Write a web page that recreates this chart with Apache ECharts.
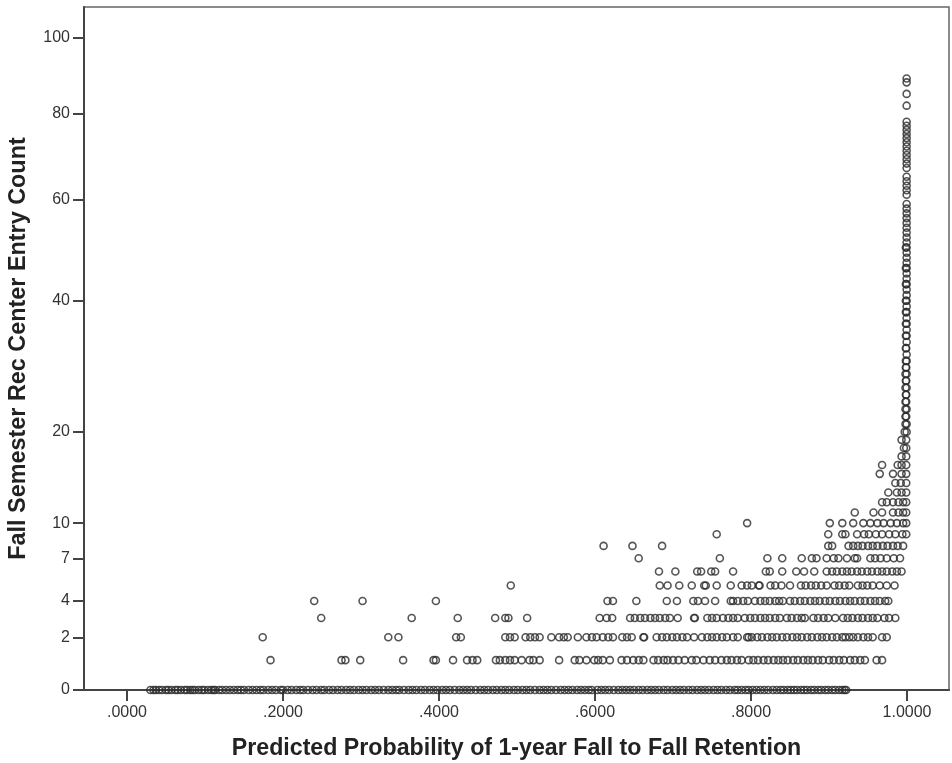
<!DOCTYPE html>
<html>
<head>
<meta charset="utf-8">
<title>Predicted retention vs rec center entries</title>
<script src="https://cdn.jsdelivr.net/npm/echarts@6/dist/echarts.min.js"></script>
<style>
html, body { margin: 0; padding: 0; background: #fff; }
#chart { width: 952px; height: 763px; }
</style>
</head>
<body>
<div id="chart"></div>
<script>
const xTicks = [0, 0.2, 0.4, 0.6, 0.8, 1];
const yTicks = [0, 2, 4, 7, 10, 20, 40, 60, 80, 100];

// predicted probability of every student, one list per entry count
const count0 = [.030,.034,.037,.041,.045,.050,.053,.057,.062,.065,.069,.074,.077,.081,.084,.087,.092,.096,.099,.104,.108,.111,.113,.118,.122,.127,.132,.137,.142,.146,.150,.156,.161,.166,.171,.175,.181,.186,.191,.197,.200,.206,.211,.217,.222,.226,.232,.238,.243,.249,.253,.259,.264,.270,.275,.281,.286,.291,.297,.302,.307,.313,.318,.323,.329,.335,.340,.345,.349,.355,.361,.366,.371,.377,.382,.388,.393,.398,.404,.409,.414,.420,.426,.431,.436,.441,.447,.453,.458,.463,.469,.474,.480,.485,.490,.496,.501,.507,.512,.517,.523,.529,.534,.539,.544,.550,.556,.561,.566,.571,.577,.582,.587,.592,.596,.603,.608,.613,.618,.624,.630,.635,.640,.645,.650,.656,.661,.667,.672,.677,.682,.688,.693,.699,.704,.709,.714,.720,.725,.731,.736,.741,.746,.752,.757,.762,.768,.773,.779,.783,.788,.793,.797,.802,.807,.812,.817,.822,.828,.833,.838,.842,.847,.851,.855,.859,.864,.868,.872,.877,.881,.886,.890,.895,.899,.904,.908,.913,.917,.920,.922];
const count1 = [.184,.275,.280,.299,.354,.393,.396,.418,.436,.443,.449,.473,.478,.485,.491,.497,.506,.516,.521,.529,.554,.574,.580,.589,.599,.604,.610,.619,.634,.641,.649,.656,.662,.675,.681,.688,.693,.700,.707,.715,.724,.730,.739,.747,.754,.762,.769,.775,.782,.788,.797,.803,.809,.816,.822,.829,.835,.841,.847,.854,.860,.867,.873,.879,.886,.892,.900,.906,.913,.919,.927,.933,.940,.946,.961,.968];
const count2 = [.174,.335,.348,.422,.428,.485,.491,.497,.511,.517,.523,.529,.544,.554,.560,.565,.578,.589,.596,.602,.610,.617,.623,.635,.641,.647,.662,.663,.679,.686,.692,.699,.705,.712,.718,.727,.737,.744,.750,.756,.763,.769,.777,.783,.795,.797,.801,.808,.814,.821,.827,.833,.840,.846,.853,.859,.865,.872,.878,.885,.891,.897,.904,.910,.917,.921,.926,.931,.937,.944,.950,.956,.968,.974];
const count3 = [.249,.365,.424,.472,.485,.489,.513,.606,.615,.622,.645,.651,.658,.664,.671,.677,.683,.690,.696,.706,.727,.728,.744,.750,.756,.764,.771,.777,.783,.792,.799,.805,.812,.818,.824,.831,.837,.846,.852,.859,.865,.869,.880,.886,.893,.899,.908,.918,.924,.930,.937,.943,.950,.956,.962,.971,.977,.985];
const count4 = [.240,.302,.396,.616,.623,.653,.692,.705,.726,.732,.741,.754,.774,.777,.783,.790,.796,.805,.812,.818,.824,.831,.836,.841,.850,.856,.863,.869,.876,.882,.888,.895,.901,.908,.914,.921,.927,.933,.940,.946,.953,.959,.965,.972,.976];
const count5 = [.492,.683,.693,.708,.724,.740,.742,.756,.774,.788,.795,.801,.810,.811,.825,.831,.839,.850,.864,.870,.877,.883,.890,.897,.907,.913,.920,.926,.937,.943,.949,.956,.965,.974,.984];
const count6 = [.682,.703,.731,.736,.749,.754,.777,.819,.824,.840,.858,.868,.881,.897,.904,.910,.917,.923,.929,.936,.942,.949,.955,.962,.968,.974,.981,.987,.993];
const count7 = [.656,.760,.821,.840,.865,.878,.884,.897,.906,.912,.923,.933,.936,.953,.959,.966,.974,.983,.991];
const count8 = [.611,.648,.686,.899,.904,.925,.931,.937,.943,.950,.956,.962,.969,.975,.982,.988,.995];
const count9 = [.756,.899,.917,.921,.936,.945,.951,.960,.968,.977,.985,.994,.999];
const count10 = [.795,.901,.917,.931,.944,.953,.962,.970,.979,.987,.995,.999];
const count11 = [.933,.957,.968,.982,.989,.995,.999];
const count12 = [.968,.974,.982,.989,.995,.999];
const count13 = [.976,.987,.993,.999];
const count14 = [.985,.992,.999];
const count15 = [.965,.982,.993,.999];
const count16 = [.968,.988,.993,.999];
const count17 = [.993,.999];
const count18 = [.996,.999];
const count19 = [.993,.999];
const count20 = [.997,.9995];
const countRows = [count0, count1, count2, count3, count4, count5, count6, count7, count8, count9, count10,
    count11, count12, count13, count14, count15, count16, count17, count18, count19, count20];

// the tall column right next to 1.0
const columnCounts = [21,22,23,24,25,26,27,28,29,30,31,32,33,34,35,36,37,38,39,40,41,42,43,44,45,46,47,48,49,50,51,52,53,54,55,56,57,58,59,61,62,63,64,65,67,68,69,70,71,72,73,74,75,76,77,78,82,85,88,89,
    21,22,23,24,25,26,27,28,29,30,32,34,36,38,40,43,46,50];
const columnProbs = [.998,.999,.998,.999,.999,.9995,.999,.9995,.999,.9995,.9995,.999,.9995,.9995,.9995,.9995,.9995,.9995,.9995,.9995,.9995,.9995,.9995,.9995,.9995,.9995,.9995,.9995,.9995,.9995,.9995,.9995,.9995,.9995,.9995,.9995,.9995,.9995,.9995,.9995,.9995,.9995,.9995,.9995,.9995,.9995,.9995,.9995,.9995,.9995,.9995,.9995,.9995,.9995,.9995,.9995,.9995,.9995,.9995,.9995,
    .9995,.998,.9995,.998,.9985,.998,.9985,.998,.9985,.9985,.9985,.9985,.9985,.9985,.9985,.9985,.9985,.9985];

// the count axis is a sqrt(count + 1) scale
const toAxis = c => Math.sqrt(c + 1) - 1;
const fromAxis = v => Math.round((v + 1) * (v + 1) - 1);

const points = [];
countRows.forEach((probs, c) => {
    probs.forEach(p => points.push([p, toAxis(c)]));
});
columnCounts.forEach((c, i) => points.push([columnProbs[i], toAxis(c)]));

const font = 'Liberation Sans';
const myChart = echarts.init(document.getElementById('chart'), null, { renderer: 'canvas' });
myChart.setOption({
    animation: false,
    backgroundColor: '#fff',
    grid: { left: 84, right: 3, top: 7, bottom: 73, show: true, borderColor: '#666', borderWidth: 1.5, outerBoundsMode: 'none' },
    xAxis: {
        type: 'value',
        min: -0.0551,
        max: 1.0538,
        name: 'Predicted Probability of 1-year Fall to Fall Retention',
        nameLocation: 'middle',
        nameGap: 59,
        nameTextStyle: { fontFamily: font, fontWeight: 'bold', fontSize: 23.2, color: '#222', verticalAlign: 'middle' },
        splitLine: { show: false },
        axisLine: { onZero: false, lineStyle: { color: '#444', width: 2 } },
        axisTick: { length: 11, customValues: xTicks, lineStyle: { color: '#444', width: 2 } },
        axisLabel: {
            customValues: xTicks,
            margin: 15,
            fontFamily: font,
            fontSize: 16,
            color: '#333',
            formatter: v => v.toFixed(4).replace(/^0/, '')
        }
    },
    yAxis: {
        type: 'value',
        min: 0,
        max: 9.48,
        name: 'Fall Semester Rec Center Entry Count',
        nameLocation: 'middle',
        nameGap: 65,
        nameTextStyle: { fontFamily: font, fontWeight: 'bold', fontSize: 23.4, color: '#222', verticalAlign: 'middle' },
        splitLine: { show: false },
        axisLine: { onZero: false, lineStyle: { color: '#444', width: 2 } },
        axisTick: { length: 11, customValues: yTicks.map(toAxis), lineStyle: { color: '#444', width: 2 } },
        axisLabel: {
            customValues: yTicks.map(toAxis),
            margin: 14,
            fontFamily: font,
            fontSize: 16,
            color: '#333',
            formatter: v => String(fromAxis(v))
        }
    },
    series: [{
        type: 'scatter',
        data: points,
        symbol: 'circle',
        symbolSize: 7,
        clip: false,
        itemStyle: { color: 'rgba(0,0,0,0)', borderColor: '#2a2a2a', borderWidth: 1.6 }
    }]
});
</script>
</body>
</html>
